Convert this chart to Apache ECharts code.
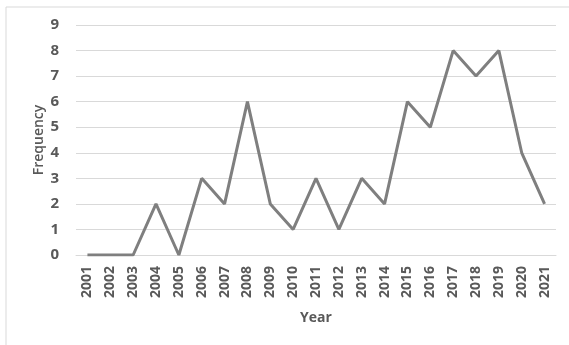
<!DOCTYPE html>
<html>
<head>
<meta charset="utf-8">
<script src="https://cdn.jsdelivr.net/npm/echarts@6/dist/echarts.min.js"></script>
<style>
html,body{margin:0;padding:0;background:#fff;}
#chart{width:569px;height:345px;}
</style>
</head>
<body>
<div id="chart"></div>
<script>
const years = ['2001','2002','2003','2004','2005','2006','2007','2008','2009','2010','2011','2012','2013','2014','2015','2016','2017','2018','2019','2020','2021'];
const frequency = [0,0,0,2,0,3,2,6,2,1,3,1,3,2,6,5,8,7,8,4,2];
const yTicks = [0,1,2,3,4,5,6,7,8,9];

const chart = echarts.init(document.getElementById('chart'));
const textColor = '#595959';
const font = '"Open Sans", sans-serif';
chart.setOption({
  animation: false,
  graphic: [{
    type: 'rect',
    shape: {x: 6, y: 7, width: 600, height: 400},
    style: {fill: 'none', stroke: '#d9d9d9', lineWidth: 1}
  }],
  grid: {left: 76, right: 13, top: 25, bottom: 90},
  xAxis: {
    type: 'category',
    data: years,
    boundaryGap: true,
    name: 'Year',
    nameLocation: 'middle',
    nameGap: 56,
    nameTextStyle: {color: textColor, fontSize: 14, fontWeight: 'bold', fontFamily: font},
    axisLine: {show: true, lineStyle: {color: '#d9d9d9'}},
    axisTick: {show: false},
    axisLabel: {rotate: 90, color: textColor, fontSize: 14, fontWeight: 'bold', fontFamily: font, margin: 11, interval: 0}
  },
  yAxis: {
    type: 'value',
    min: yTicks[0],
    max: yTicks[yTicks.length - 1],
    interval: 1,
    name: 'Frequency',
    nameLocation: 'middle',
    nameGap: 30,
    nameMoveOverlap: false,
    nameTextStyle: {color: textColor, fontSize: 14, fontWeight: 600, fontFamily: font},
    axisLine: {show: false},
    axisTick: {show: false},
    axisLabel: {color: textColor, fontSize: 15, fontWeight: 'bold', fontFamily: font, margin: 17},
    splitLine: {lineStyle: {color: '#d9d9d9', width: 1}}
  },
  series: [{
    type: 'line',
    data: frequency,
    symbol: 'none',
    lineStyle: {color: '#7f7f7f', width: 3},
    itemStyle: {color: '#7f7f7f'}
  }]
});
</script>
</body>
</html>
